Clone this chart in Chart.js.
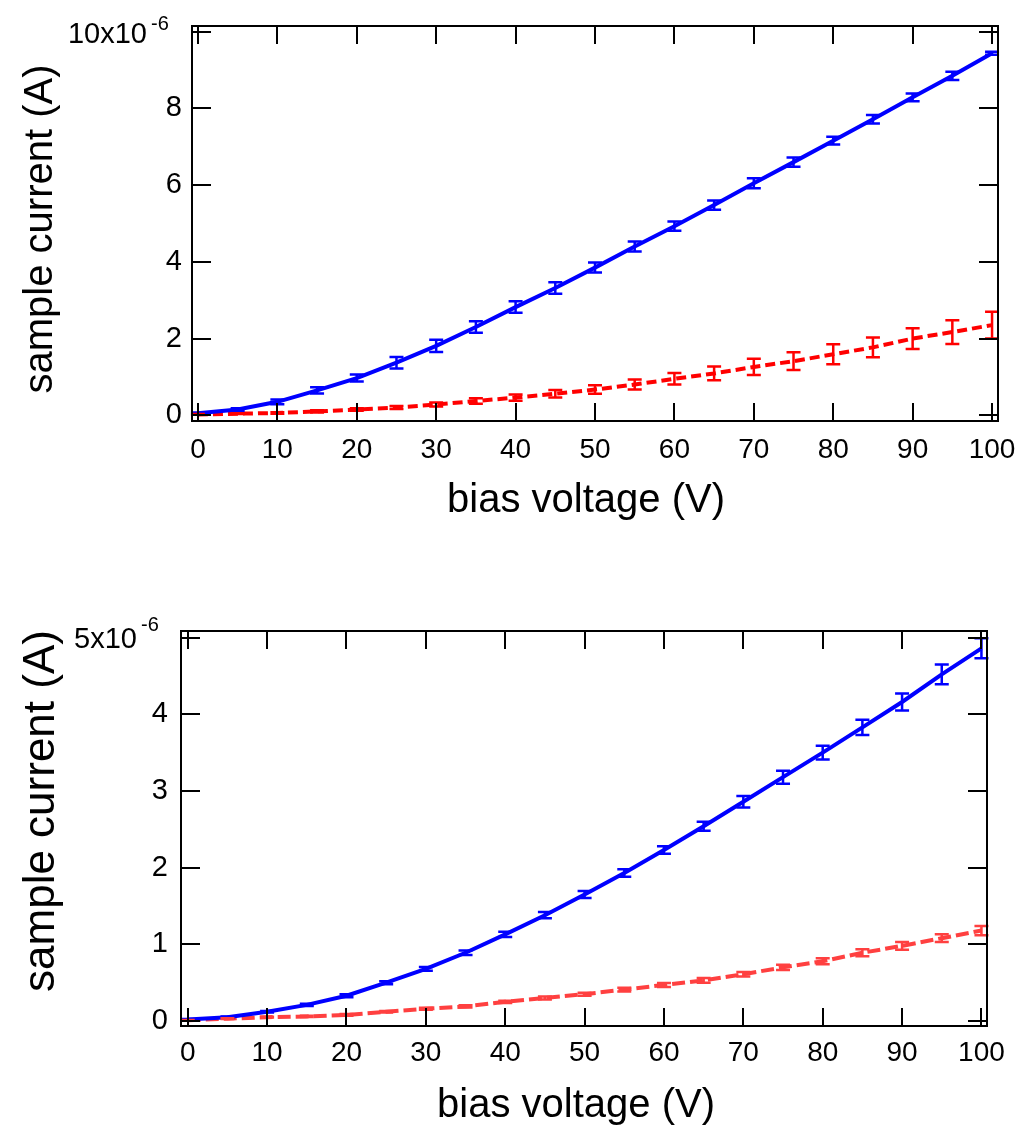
<!DOCTYPE html>
<html><head><meta charset="utf-8">
<script src="https://cdn.jsdelivr.net/npm/chart.js@4.4.0/dist/chart.umd.min.js"></script>
<style>
html,body{margin:0;padding:0;background:#fff;}
#wrap{position:relative;width:1019px;height:1129px;overflow:hidden;}
canvas{position:absolute;left:0;}
</style></head><body>
<div id="wrap">
<canvas id="c1" width="1019" height="560" style="top:0px"></canvas>
<canvas id="c2" width="1019" height="569" style="top:560px"></canvas>
</div>
<script>
// ---- data (current in units of 1e-6 A) ----
const voltage = [0,5,10,15,20,25,30,35,40,45,50,55,60,65,70,75,80,85,90,95,100];
const xTickValues = [0,10,20,30,40,50,60,70,80,90,100];

const topBlue    = [0.05,0.15,0.35,0.65,0.97,1.37,1.81,2.30,2.82,3.32,3.85,4.40,4.93,5.48,6.05,6.60,7.16,7.72,8.29,8.85,9.44];
const topBlueErr = [0.02,0.03,0.06,0.08,0.09,0.15,0.16,0.15,0.15,0.15,0.13,0.13,0.12,0.12,0.13,0.12,0.10,0.11,0.10,0.11,0.04];
const topRed     = [0.02,0.04,0.06,0.10,0.15,0.20,0.28,0.37,0.46,0.56,0.67,0.80,0.95,1.09,1.26,1.41,1.59,1.77,2.00,2.17,2.35];
const topRedErr  = [0.01,0.01,0.02,0.03,0.03,0.04,0.05,0.07,0.08,0.10,0.11,0.13,0.15,0.18,0.21,0.23,0.26,0.26,0.27,0.31,0.35];
const topYTicks  = [0,2,4,6,8,10];

const botBlue    = [0.02,0.05,0.12,0.21,0.33,0.50,0.68,0.89,1.13,1.38,1.65,1.93,2.23,2.54,2.86,3.18,3.50,3.83,4.16,4.52,4.86];
const botBlueErr = [0.005,0.01,0.01,0.015,0.02,0.02,0.025,0.03,0.035,0.04,0.045,0.05,0.05,0.06,0.075,0.085,0.09,0.10,0.11,0.13,0.13];
const botRed     = [0.01,0.03,0.05,0.06,0.08,0.12,0.16,0.19,0.25,0.30,0.35,0.41,0.47,0.53,0.61,0.70,0.78,0.89,0.98,1.08,1.18];
const botRedErr  = [0.003,0.005,0.005,0.008,0.01,0.01,0.012,0.015,0.015,0.02,0.02,0.025,0.025,0.03,0.03,0.035,0.04,0.045,0.05,0.05,0.06];
const botYTicks  = [0,1,2,3,4,5];

const xTitle = 'bias voltage (V)';
const yTitle = 'sample current (A)';
const topMaxLabel = '10x10';
const botMaxLabel = '5x10';
const expLabel = '-6';

const FONT = '"Liberation Sans", Arial, Helvetica, sans-serif';

const decorPlugin = {
  id: 'decor',
  afterDatasetsDraw(chart) {
    const ctx = chart.ctx, ca = chart.chartArea;
    const xs = chart.scales.x, ys = chart.scales.y;
    const cfg = chart.options.plugins.decor;
    ctx.save();
    // error bars
    chart.data.datasets.forEach(ds => {
      if (!ds.errors) return;
      ctx.strokeStyle = ds.borderColor;
      ctx.lineWidth = 2.5;
      ctx.setLineDash([]);
      ds.data.forEach((p, i) => {
        const e = ds.errors[i];
        const px = xs.getPixelForValue(p.x);
        const y1 = ys.getPixelForValue(p.y - e);
        const y2 = ys.getPixelForValue(p.y + e);
        ctx.beginPath();
        ctx.moveTo(px, y1); ctx.lineTo(px, y2);
        ctx.moveTo(px - 7, y1); ctx.lineTo(px + 7, y1);
        ctx.moveTo(px - 7, y2); ctx.lineTo(px + 7, y2);
        ctx.stroke();
      });
    });
    // frame
    ctx.strokeStyle = '#000';
    ctx.lineWidth = 2;
    ctx.strokeRect(ca.left, ca.top, ca.right - ca.left, ca.bottom - ca.top);
    // inward ticks, mirrored on top and right
    ctx.beginPath();
    xs.ticks.forEach(t => {
      const px = Math.round(xs.getPixelForValue(t.value));
      ctx.moveTo(px, ca.bottom); ctx.lineTo(px, ca.bottom - 18);
      ctx.moveTo(px, ca.top); ctx.lineTo(px, ca.top + 18);
    });
    ys.ticks.forEach(t => {
      const py = Math.round(ys.getPixelForValue(t.value));
      ctx.moveTo(ca.left, py); ctx.lineTo(ca.left + 19, py);
      ctx.moveTo(ca.right, py); ctx.lineTo(ca.right - 19, py);
    });
    ctx.stroke();
    // top y label with exponent
    ctx.fillStyle = '#000';
    const topVal = ys.ticks[ys.ticks.length - 1].value;
    const pyTop = ys.getPixelForValue(topVal);
    ctx.font = '29px ' + FONT;
    ctx.textAlign = 'right';
    ctx.textBaseline = 'alphabetic';
    ctx.fillText(cfg.maxLabel, cfg.maxLabelX, pyTop + cfg.maxLabelDy);
    ctx.font = '20px ' + FONT;
    ctx.textAlign = 'left';
    ctx.fillText(expLabel, cfg.maxLabelX + 4, pyTop + cfg.expDy);
    // axis titles
    ctx.font = '40px ' + FONT;
    ctx.textAlign = 'center';
    ctx.fillText(xTitle, cfg.xTitleX, cfg.xTitleY);
    ctx.font = cfg.yTitleSize + 'px ' + FONT;
    ctx.translate(cfg.yTitleX, cfg.yTitleY);
    ctx.rotate(-Math.PI / 2);
    ctx.fillText(yTitle, 0, 0);
    ctx.restore();
  }
};

function makeChart(id, c) {
  return new Chart(document.getElementById(id), {
    type: 'line',
    data: {
      datasets: [
        { data: voltage.map((v, i) => ({x: v, y: c.blue[i]})), errors: c.blueErr,
          borderColor: '#0000ff', borderWidth: 4, pointRadius: 0, tension: 0, fill: false },
        { data: voltage.map((v, i) => ({x: v, y: c.red[i]})), errors: c.redErr,
          borderColor: c.redColor, borderWidth: 4, borderDash: c.dash, pointRadius: 0, tension: 0, fill: false }
      ]
    },
    options: {
      responsive: false, animation: false, devicePixelRatio: 1,
      layout: { padding: { top: c.padTop, right: c.padRight, left: 0, bottom: 0 } },
      plugins: {
        legend: { display: false }, tooltip: { enabled: false },
        decor: c.decor
      },
      scales: {
        x: {
          type: 'linear', min: c.xMin, max: c.xMax,
          afterBuildTicks(s) { s.ticks = xTickValues.map(v => ({ value: v })); },
          afterFit(s) { s.height = c.xH; s.paddingLeft = 0; s.paddingRight = 0; },
          grid: { display: false, drawTicks: false }, border: { display: false },
          ticks: { color: '#000', font: { family: FONT, size: 28, lineHeight: 1 }, padding: c.xPad, maxRotation: 0, autoSkip: false }
        },
        y: {
          type: 'linear', min: c.yMin, max: c.yMax,
          afterBuildTicks(s) { s.ticks = c.yTicks.map(v => ({ value: v })); },
          afterFit(s) { s.width = c.yW; s.paddingTop = 0; s.paddingBottom = 0; },
          grid: { display: false, drawTicks: false }, border: { display: false },
          ticks: { color: '#000', font: { family: FONT, size: 29, lineHeight: 1 }, padding: c.yPad,
                   callback: (v) => (v === c.yTicks[c.yTicks.length - 1] ? '' : String(v)) }
        }
      }
    },
    plugins: [decorPlugin]
  });
}

makeChart('c1', {
  blue: topBlue, blueErr: topBlueErr, red: topRed, redErr: topRedErr,
  redColor: '#ff0000', dash: [10, 5], yTicks: topYTicks,
  xMin: -0.75, xMax: 100.75, yMin: -0.15, yMax: 10.15,
  padTop: 26, padRight: 21, xH: 139, yW: 192, xPad: 15, yPad: 10,
  decor: { maxLabel: topMaxLabel, maxLabelX: 147, maxLabelDy: 11, expDy: -2,
           xTitleX: 586, xTitleY: 512, yTitleX: 52, yTitleY: 229, yTitleSize: 40 }
});
makeChart('c2', {
  blue: botBlue, blueErr: botBlueErr, red: botRed, redErr: botRedErr,
  redColor: '#ff4040', dash: [13, 5], yTicks: botYTicks,
  xMin: -0.85, xMax: 100.7, yMin: -0.065, yMax: 5.086,
  padTop: 71, padRight: 32, xH: 103, yW: 181, xPad: 13, yPad: 13,
  decor: { maxLabel: botMaxLabel, maxLabelX: 137, maxLabelDy: 10, expDy: -7,
           xTitleX: 576, xTitleY: 557, yTitleX: 54, yTitleY: 251, yTitleSize: 44 }
});
</script>
</body></html>
